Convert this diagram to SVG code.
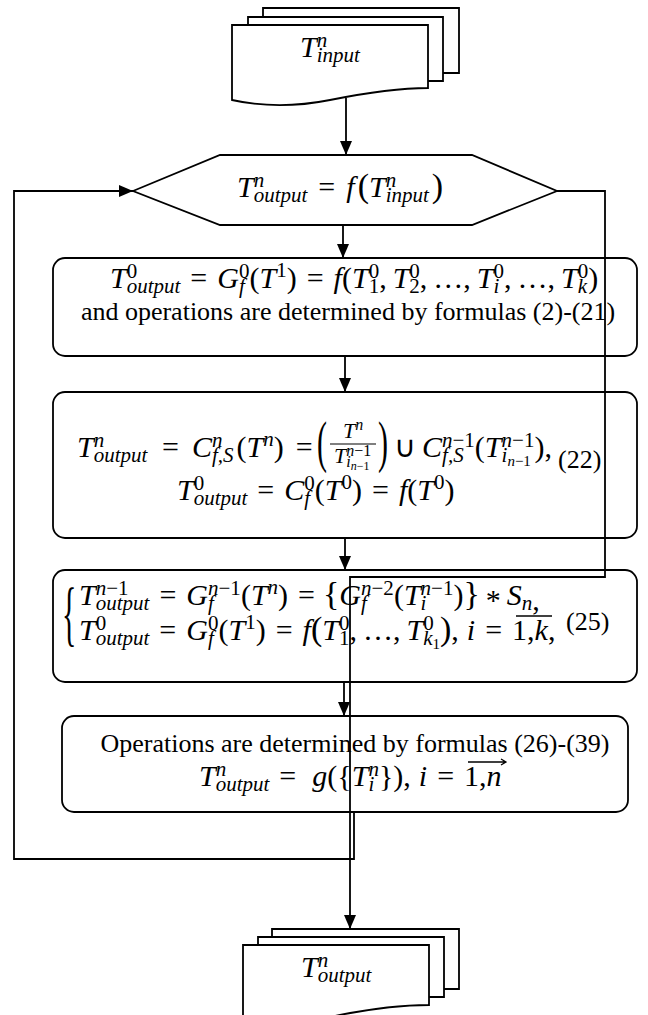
<svg xmlns="http://www.w3.org/2000/svg" width="648" height="1015" viewBox="0 0 648 1015">
<defs>
<style>
.ln{fill:none;stroke:#000;stroke-width:1.8}
.nd{fill:#fff;stroke:#000;stroke-width:1.8}
.m{font-family:"Liberation Serif","Times New Roman",serif;font-style:italic;font-size:30px;fill:#000}
.r{font-style:normal}
.s{font-size:21px}
.ss{font-size:15px}
.p{font-size:34px;font-style:normal}
.t{font-family:"Liberation Serif","Times New Roman",serif;font-size:26px;fill:#000}
.bp{font-family:"Liberation Serif","Times New Roman",serif;font-size:30px;fill:#000}
</style>
<marker id="ah" markerWidth="14" markerHeight="12" refX="14" refY="6" orient="auto" markerUnits="userSpaceOnUse"><path d="M0,0 L14,6 L0,12 Z" fill="#000"/></marker>
</defs>
<rect width="648" height="1015" fill="#fff"/>

<g id="input-docs">
<polyline class="ln" points="263,17 263,8 459,8 459,73 443,73"/>
<polyline class="ln" points="248,25 248,17 443,17 443,81 428,81"/>
<path class="nd" d="M232,25 H428 V88 C400,88 370,92 330,100 C300,106 268,108 232,100 Z"/>
<text class="m" x="300" y="57">T<tspan class="s" dy="-10">n</tspan><tspan class="s" dx="-10.5" dy="15">input</tspan></text>
</g>

<g id="hexagon">
<polygon class="nd" points="133,191 220,155 472,155 557,191 472,225 220,225"/>
<text class="m" x="237" y="197">T<tspan class="s" dy="-10">n</tspan><tspan class="s" dx="-10.5" dy="15">output</tspan><tspan class="r" dx="11" dy="-5">=</tspan><tspan dx="11">f</tspan><tspan class="p" dx="3">(</tspan><tspan>T</tspan><tspan class="s" dy="-10">n</tspan><tspan class="s" dx="-10.5" dy="15">input</tspan><tspan class="p" dx="3" dy="-5">)</tspan></text>
</g>

<g id="box1">
<rect class="nd" x="53" y="258" width="584" height="98" rx="12"/>
<text class="m" x="110" y="288">T<tspan class="s r" dy="-10">0</tspan><tspan class="s" dx="-10.5" dy="15">output</tspan><tspan class="r" dx="10" dy="-5">=</tspan><tspan dx="10">G</tspan><tspan class="s r" dy="-10">0</tspan><tspan class="s" dx="-10.5" dy="15">f</tspan><tspan class="r" dx="4.7" dy="-5">(</tspan><tspan>T</tspan><tspan class="s r" dy="-11">1</tspan><tspan class="r" dy="11">)</tspan><tspan class="r" dx="10">=</tspan><tspan dx="10">f</tspan><tspan class="r">(</tspan><tspan>T</tspan><tspan class="s r" dy="-10">0</tspan><tspan class="s r" dx="-10.5" dy="15">1</tspan><tspan class="r" dy="-5">,</tspan><tspan dx="6">T</tspan><tspan class="s r" dy="-10">0</tspan><tspan class="s r" dx="-10.5" dy="15">2</tspan><tspan class="r" dy="-5">,</tspan><tspan class="r" dx="6">…</tspan><tspan class="r">,</tspan><tspan dx="6">T</tspan><tspan class="s r" dy="-10">0</tspan><tspan class="s" dx="-10.5" dy="15">i</tspan><tspan class="r" dx="4.7" dy="-5">,</tspan><tspan class="r" dx="6">…</tspan><tspan class="r">,</tspan><tspan dx="6">T</tspan><tspan class="s r" dy="-10">0</tspan><tspan class="s" dx="-10.5" dy="15">k</tspan><tspan class="r" dx="1.2" dy="-5">)</tspan></text>
<text class="t" x="348" y="320" text-anchor="middle">and operations are determined by formulas (2)-(21)</text>
</g>

<g id="box2">
<rect class="nd" x="53" y="392" width="584" height="146" rx="12"/>
<text class="m" y="457"><tspan x="77">T</tspan><tspan class="s" dy="-10">n</tspan><tspan class="s" dx="-10.5" dy="15">output</tspan><tspan class="r" x="162" dy="-5">=</tspan><tspan x="192">C</tspan><tspan class="s" dy="-10">n</tspan><tspan class="s" dx="-10.5" dy="15">f,S</tspan><tspan class="r" dx="3" dy="-5">(</tspan><tspan>T</tspan><tspan class="s" dy="-11">n</tspan><tspan class="r" dy="11">)</tspan><tspan class="r" dx="12">=</tspan><tspan class="r" x="394">∪</tspan><tspan x="422">C</tspan><tspan class="s" dy="-10">n</tspan><tspan class="s r">−1</tspan><tspan class="s" dx="-32.8" dy="15">f,S</tspan><tspan class="r" dx="11.2" dy="-5">(</tspan><tspan>T</tspan><tspan class="s" dy="5">i</tspan><tspan class="ss" dy="4">n</tspan><tspan class="ss r">−1</tspan><tspan class="s" dx="-29.3" dy="-19">n</tspan><tspan class="s r">−1</tspan><tspan class="r" dy="10">)</tspan><tspan class="r">,</tspan></text>
<text class="bp" transform="translate(317,461) scale(1,1.9)">(</text>
<text class="m" x="343" y="438" style="font-size:22px">T<tspan style="font-size:16px" dy="-8">n</tspan></text>
<line x1="330" y1="444" x2="376" y2="444" stroke="#000" stroke-width="1.2"/>
<text class="m" x="334" y="463" style="font-size:22px">T<tspan style="font-size:16px" dy="4">i</tspan><tspan style="font-size:12px" dy="3">n</tspan><tspan style="font-size:12px;font-style:normal">−1</tspan><tspan style="font-size:16px" dx="-23.2" dy="-14">n</tspan><tspan style="font-size:16px;font-style:normal">−1</tspan></text>
<text class="bp" transform="translate(378,461) scale(1,1.9)">)</text>
<text class="m" x="177" y="500">T<tspan class="s r" dy="-10">0</tspan><tspan class="s" dx="-10.5" dy="15">output</tspan><tspan class="r" dx="10" dy="-5">=</tspan><tspan dx="10">C</tspan><tspan class="s r" dy="-10">0</tspan><tspan class="s" dx="-10.5" dy="15">f</tspan><tspan class="r" dx="4.7" dy="-5">(</tspan><tspan>T</tspan><tspan class="s r" dy="-11">0</tspan><tspan class="r" dy="11">)</tspan><tspan class="r" dx="10">=</tspan><tspan dx="10">f</tspan><tspan class="r">(</tspan><tspan>T</tspan><tspan class="s r" dy="-11">0</tspan><tspan class="r" dy="11">)</tspan></text>
<text class="t" x="558" y="468">(22)</text>
</g>

<g id="box3">
<rect class="nd" x="53" y="570" width="584" height="112" rx="12"/>
<text class="bp" transform="translate(62,637) scale(1,2.4)">{</text>
<text class="m" x="79" y="605">T<tspan class="s" dy="-10">n</tspan><tspan class="s r">−1</tspan><tspan class="s" dx="-32.8" dy="15">output</tspan><tspan class="r" dx="10" dy="-5">=</tspan><tspan dx="10">G</tspan><tspan class="s" dy="-10">n</tspan><tspan class="s r">−1</tspan><tspan class="s" dx="-32.8" dy="15">f</tspan><tspan class="r" dx="27" dy="-5">(</tspan><tspan>T</tspan><tspan class="s" dy="-11">n</tspan><tspan class="r" dy="11">)</tspan><tspan class="r" dx="10">=</tspan><tspan class="p" dx="8">{</tspan><tspan>G</tspan><tspan class="s" dy="-10">n</tspan><tspan class="s r">−2</tspan><tspan class="s" dx="-32.8" dy="15">f</tspan><tspan class="r" dx="27" dy="-5">(</tspan><tspan>T</tspan><tspan class="s" dy="5">i</tspan><tspan class="s" dx="-5.8" dy="-15">n</tspan><tspan class="s r">−1</tspan><tspan class="r" dy="10">)</tspan><tspan class="p">}</tspan><tspan class="r" dx="6" dy="5">*</tspan><tspan dx="6" dy="-5">S</tspan><tspan class="s" dy="5">n</tspan><tspan class="r">,</tspan></text>
<text class="m" x="79" y="640">T<tspan class="s r" dy="-10">0</tspan><tspan class="s" dx="-10.5" dy="15">output</tspan><tspan class="r" dx="10" dy="-5">=</tspan><tspan dx="10">G</tspan><tspan class="s r" dy="-10">0</tspan><tspan class="s" dx="-10.5" dy="15">f</tspan><tspan class="r" dx="4.7" dy="-5">(</tspan><tspan>T</tspan><tspan class="s r" dy="-11">1</tspan><tspan class="r" dy="11">)</tspan><tspan class="r" dx="10">=</tspan><tspan dx="10">f</tspan><tspan class="p">(</tspan><tspan>T</tspan><tspan class="s r" dy="-10">0</tspan><tspan class="s r" dx="-10.5" dy="15">1</tspan><tspan class="r" dy="-5">,</tspan><tspan class="r" dx="6">…</tspan><tspan class="r">,</tspan><tspan dx="6">T</tspan><tspan class="s r" dy="-10">0</tspan><tspan class="s" dx="-10.5" dy="15">k</tspan><tspan class="ss r" dy="4">1</tspan><tspan class="p" dy="-9">)</tspan><tspan class="r">,</tspan><tspan dx="8">i</tspan><tspan class="r" dx="10">=</tspan><tspan class="r" dx="10">1,</tspan><tspan>k</tspan><tspan class="r">,</tspan></text>
<line x1="516" y1="616" x2="552" y2="616" stroke="#000" stroke-width="1.3"/>
<text class="t" x="566" y="630">(25)</text>
</g>

<g id="box4">
<rect class="nd" x="62" y="716" width="566" height="96" rx="12"/>
<text class="t" x="355" y="752" text-anchor="middle">Operations are determined by formulas (26)-(39)</text>
<text class="m" x="199" y="786">T<tspan class="s" dy="-10">n</tspan><tspan class="s" dx="-10.5" dy="15">output</tspan><tspan class="r" dx="10" dy="-5">=</tspan><tspan dx="16">g</tspan><tspan class="r">(</tspan><tspan class="r">{</tspan><tspan>T</tspan><tspan class="s" dy="-10">n</tspan><tspan class="s" dx="-10.5" dy="15">i</tspan><tspan class="r" dx="4.7" dy="-5">}</tspan><tspan class="r">)</tspan><tspan class="r">,</tspan><tspan dx="8">i</tspan><tspan class="r" dx="10">=</tspan><tspan class="r" dx="10">1,</tspan><tspan>n</tspan></text>
<path d="M468,762 H506 M501,759 L506,762 L501,765" fill="none" stroke="#000" stroke-width="1.3"/>
</g>

<g id="output-docs">
<polyline class="ln" points="272,937 272,929 459,929 459,989 444,989"/>
<polyline class="ln" points="258,945 258,937 444,937 444,997 429,997"/>
<path class="nd" d="M243,1030 V945 H429 V1005 C400,1005 370,1009 340,1015 C310,1021 275,1024 243,1018"/>
<text class="m" x="301" y="977">T<tspan class="s" dy="-10">n</tspan><tspan class="s" dx="-10.5" dy="15">output</tspan></text>
</g>

<g id="connectors" class="ln">
<path d="M346,98 V155" marker-end="url(#ah)"/>
<path d="M343,225 V258" marker-end="url(#ah)"/>
<path d="M345,356 V392" marker-end="url(#ah)"/>
<path d="M345,538 V570" marker-end="url(#ah)"/>
<path d="M344,682 V716" marker-end="url(#ah)"/>
<path d="M557,191 H605 V577 H350 V929" marker-end="url(#ah)"/>
<path d="M354,812 V859 H14 V191 H133" marker-end="url(#ah)"/>
</g>
</svg>
